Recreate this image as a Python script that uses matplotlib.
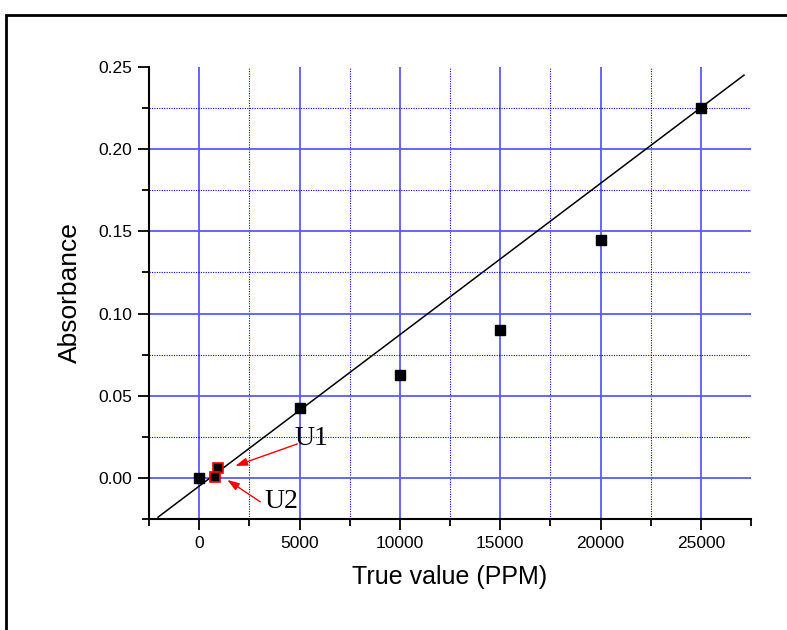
import matplotlib
matplotlib.use("Agg")
import matplotlib.pyplot as plt
from matplotlib.patches import Rectangle
from matplotlib.ticker import MultipleLocator
import numpy as np

# calibration standards
ppm = [0, 5000, 10000, 15000, 20000, 25000]
absorbance = [0.0, 0.0427, 0.0628, 0.0902, 0.1447, 0.2252]

# unknown samples
unknown_labels = ["U1", "U2"]
unknown_ppm = [950, 800]
unknown_abs = [0.0061, 0.0003]

# fitted line
fit_slope = 9.21e-6
fit_intercept = -0.0050
fit_x = np.array([-2050, 27150])

fig = plt.figure(figsize=(7.87, 6.30), dpi=100)
ax = fig.add_axes([149 / 787, 1 - 519 / 630, (751 - 149) / 787, (519 - 67) / 630])

# outer frame (only left and top edges visible in the crop)
fig.add_artist(Rectangle((6 / 787, -0.2), 1.2, 0.2 + 1 - 15 / 630, transform=fig.transFigure,
                         fill=False, edgecolor="black", linewidth=2.0))

ax.set_xlim(-2500, 27500)
ax.set_ylim(-0.025, 0.25)
ax.xaxis.set_major_locator(MultipleLocator(5000))
ax.xaxis.set_minor_locator(MultipleLocator(2500))
ax.yaxis.set_major_locator(MultipleLocator(0.05))
ax.yaxis.set_minor_locator(MultipleLocator(0.025))
ax.yaxis.set_major_formatter(matplotlib.ticker.FormatStrFormatter("%.2f"))

ax.grid(True, which="major", color="#5a5aff", linewidth=1.3, linestyle="-")
ax.grid(True, which="minor", color="#0000ff", linewidth=0.8, linestyle=(0, (1, 1.2)))
ax.set_axisbelow(True)
fig.canvas.draw()
for tick in ax.yaxis.get_major_ticks():
    if tick.get_loc() >= 0.249:
        tick.gridline.set_visible(False)
for tick in ax.xaxis.get_minor_ticks():
    if tick.get_loc() >= 27400 or tick.get_loc() <= -2400:
        tick.gridline.set_visible(False)
for tick in ax.yaxis.get_minor_ticks():
    if tick.get_loc() <= -0.024:
        tick.gridline.set_visible(False)

for side in ["top", "right"]:
    ax.spines[side].set_visible(False)
for side in ["left", "bottom"]:
    ax.spines[side].set_linewidth(1.5)
ax.tick_params(which="major", direction="out", length=8, width=1.3, labelsize=12.5, pad=4)
ax.tick_params(which="minor", direction="out", length=5, width=1.3)
for lab in ax.get_xticklabels() + ax.get_yticklabels():
    lab.set_family("Liberation Sans")

ax.plot(fit_x, fit_slope * fit_x + fit_intercept, color="black", linewidth=1.1, zorder=3)
ax.plot(ppm, absorbance, linestyle="none", marker="s", markersize=7.5,
        color="black", zorder=4)
ax.plot(unknown_ppm, unknown_abs, linestyle="none", marker="s", markersize=7.5,
        markerfacecolor="black", markeredgecolor="red", markeredgewidth=1.2, zorder=5)

# annotation arrows and labels
arrow = dict(arrowstyle="-|>,head_length=0.6,head_width=0.2", color="red", lw=1.0,
             mutation_scale=12, shrinkA=0, shrinkB=0)
ax.annotate("", xy=(1800, 0.0073), xytext=(4900, 0.0207), arrowprops=arrow, zorder=6)
ax.annotate("", xy=(1400, -0.0012), xytext=(3050, -0.0146), arrowprops=arrow, zorder=6)
ax.text(4750, 0.0238, unknown_labels[0], family="Liberation Serif", fontsize=20,
        va="center", ha="left")
ax.text(3250, -0.0146, unknown_labels[1], family="Liberation Serif", fontsize=20,
        va="center", ha="left")

ax.set_xlabel("True value (PPM)", family="Liberation Sans", fontsize=18, labelpad=10)
ax.set_ylabel("Absorbance", family="Liberation Sans", fontsize=19, labelpad=12)

fig.savefig("out.png", dpi=100)
